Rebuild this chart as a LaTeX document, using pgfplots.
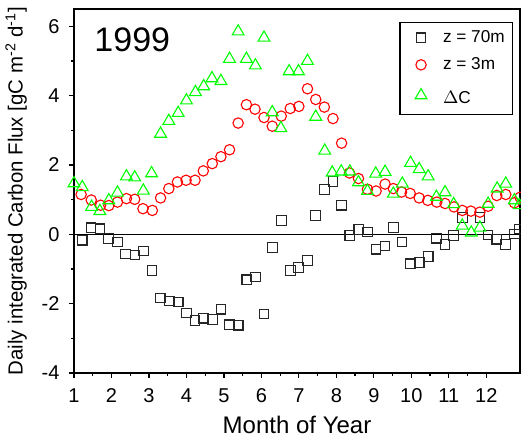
\documentclass[border=0pt]{standalone}
\usepackage{fontspec}
\setmainfont{Liberation Sans}
\usepackage{pgfplots}
\pgfplotsset{compat=1.18}
\definecolor{deep}{RGB}{0,0,0}
\definecolor{surf}{RGB}{255,0,0}
\definecolor{delta}{RGB}{0,255,0}

\begin{document}
\begin{tikzpicture}
\begin{axis}[
    width=223pt, height=182pt, scale only axis,
    xmin=1, xmax=12.9, ymin=-4, ymax=6.5,
    xtick={1,2,...,12}, minor x tick num=1,
    ytick={-4,-2,0,2,4,6}, minor y tick num=1,
    tick pos=left, tick align=outside,
    major tick length=2.5pt, minor tick length=1.6pt,
    every tick/.style={black, line width=0.6pt},
    axis line style={line width=0.6pt},
    tick label style={font=\fontsize{10}{12}\selectfont},
    xticklabel style={yshift=-1.9pt},
    yticklabel style={xshift=-1.2pt},
    /pgf/number format/assume math mode=true,
    xlabel={Month of Year},
    every axis x label/.style={at={(rel axis cs:0.5,-0.117)}, anchor=north, inner sep=0pt,
        font=\fontsize{12}{14}\selectfont},
    ylabel={Daily integrated Carbon Flux [gC m\textsuperscript{-2} d\textsuperscript{-1}]},
    every axis y label/.style={at={(rel axis cs:-0.105,0.5)}, anchor=south, rotate=90, inner sep=0pt,
        font=\fontsize{10.2}{12}\selectfont},
    legend style={at={(0.985,0.965)}, anchor=north east, draw=black, line width=0.6pt,
        font=\fontsize{8.6}{10}\selectfont, row sep=2pt, inner sep=2pt},
    legend cell align=left,
    legend image code/.code={\path[draw=none, fill=none] (-8.5pt,0pt) rectangle (9pt,0.1pt); \draw[#1] plot coordinates {(0pt,0pt)};},
]
\addplot[black, line width=0.6pt, forget plot] coordinates {(1,0) (12.9,0)};

\addplot[only marks, mark=square, mark size=2.4pt, mark options={draw=black!85, line width=0.55pt}] coordinates {
(1.22,-0.17) (1.45,0.19) (1.69,0.16) (1.92,-0.12) (2.16,-0.22) (2.38,-0.57)
(2.63,-0.60) (2.85,-0.48) (3.08,-1.04) (3.30,-1.84) (3.54,-1.92) (3.78,-1.95)
(4.00,-2.27) (4.23,-2.49) (4.45,-2.42) (4.69,-2.46) (4.92,-2.16) (5.15,-2.61)
(5.38,-2.62) (5.61,-1.31) (5.84,-1.23) (6.07,-2.30) (6.29,-0.38) (6.53,0.40)
(6.77,-1.04) (6.99,-0.95) (7.23,-0.75) (7.45,0.54) (7.68,1.29) (7.91,1.53)
(8.14,0.84) (8.36,-0.03) (8.60,0.14) (8.83,0.07) (9.06,-0.43) (9.30,-0.34)
(9.52,0.20) (9.75,-0.22) (9.98,-0.85) (10.21,-0.81) (10.45,-0.64) (10.67,-0.11)
(10.90,-0.29) (11.13,-0.04) (11.36,0.48) (11.83,0.48) (12.05,-0.02) (12.28,-0.14)
(12.51,-0.29) (12.75,0.01) (12.88,0.15)
};
\addlegendentry{z = 70m}

\addplot[only marks, mark=o, mark size=2.6pt, mark options={draw=surf, line width=0.55pt}] coordinates {
(1.19,1.15) (1.46,0.99) (1.71,0.84) (1.93,0.83) (2.16,0.93) (2.40,1.03)
(2.62,1.01) (2.84,0.74) (3.09,0.69) (3.31,1.05) (3.53,1.32) (3.76,1.51)
(3.99,1.56) (4.23,1.56) (4.45,1.83) (4.69,2.04) (4.92,2.24) (5.15,2.44)
(5.38,3.21) (5.60,3.74) (5.83,3.61) (6.07,3.37) (6.29,3.12) (6.53,3.41)
(6.77,3.63) (7.00,3.69) (7.23,4.20) (7.45,3.89) (7.68,3.67) (7.91,3.34)
(8.14,2.63) (8.35,1.77) (8.59,1.61) (8.83,1.30) (9.06,1.25) (9.30,1.45)
(9.52,1.32) (9.74,1.22) (9.97,1.18) (10.21,1.05) (10.44,0.98) (10.68,0.93)
(10.90,0.89) (11.14,0.79) (11.36,0.69) (11.59,0.67) (11.83,0.64) (12.05,0.81)
(12.28,1.12) (12.52,1.15) (12.75,0.91) (12.90,1.07)
};
\addlegendentry{z = 3m}

\addplot[only marks, mark=triangle, mark size=3.4pt, mark options={draw=delta, line width=0.55pt}] coordinates {
(1.00,1.47) (1.22,1.36) (1.47,0.79) (1.69,0.67) (1.93,0.98) (2.16,1.20)
(2.40,1.67) (2.62,1.64) (2.85,1.26) (3.07,1.76) (3.31,2.90) (3.53,3.27)
(3.78,3.50) (4.00,3.86) (4.24,4.10) (4.46,4.27) (4.68,4.50) (4.92,4.42)
(5.15,5.06) (5.38,5.85) (5.60,5.06) (5.84,4.87) (6.07,5.67) (6.29,3.52)
(6.52,3.06) (6.74,4.70) (6.99,4.70) (7.23,5.00) (7.45,3.39) (7.69,2.41)
(7.89,1.78) (8.13,1.81) (8.36,1.81) (8.59,1.50) (8.83,1.25) (9.05,1.75)
(9.30,1.80) (9.52,1.17) (9.76,1.46) (9.98,2.06) (10.21,1.88) (10.45,1.67)
(10.67,1.08) (10.90,1.21) (11.13,0.87) (11.36,0.25) (11.60,0.05) (11.83,0.19)
(12.05,0.88) (12.29,1.32) (12.52,1.46) (12.75,0.98) (12.88,0.84)
};
\addlegendentry{\rule{0pt}{9.5pt}$\Delta$C}

\node[anchor=west, font=\fontsize{17}{20}\selectfont] at (rel axis cs:0.03,0.915) {1999};
\end{axis}
\pgfresetboundingbox
\path ([shift={(-37pt,-32.5pt)}]current axis.south west) rectangle ([shift={(0.5pt,4.5pt)}]current axis.north east);
\end{tikzpicture}
\end{document}
